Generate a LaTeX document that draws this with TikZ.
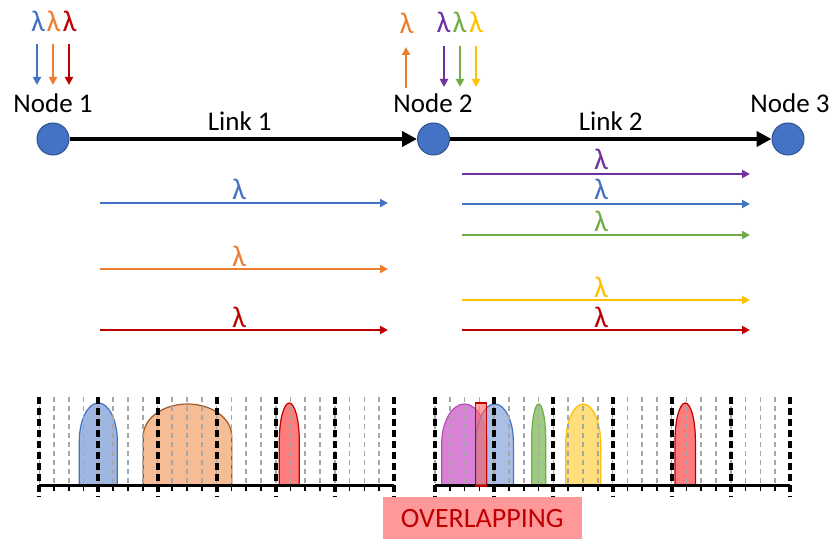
\documentclass[tikz,border=0pt]{standalone}
\usepackage{fontspec}
\setmainfont{Carlito}
\usetikzlibrary{arrows.meta}
\definecolor{cBlue}{HTML}{4472C4}
\definecolor{cOrange}{HTML}{ED7D31}
\definecolor{cRed}{HTML}{C00000}
\definecolor{cPurple}{HTML}{7030A0}
\definecolor{cGreen}{HTML}{70AD47}
\definecolor{cYellow}{HTML}{FFC000}
\definecolor{fBlue}{HTML}{8FAADC}
\definecolor{fOrange}{HTML}{F4B183}
\definecolor{dOrange}{HTML}{9C5A2A}
\definecolor{fRed}{HTML}{FF6666}
\definecolor{fPurple}{HTML}{D06BD0}
\definecolor{dPurple}{HTML}{B84DB8}
\definecolor{fGreen}{HTML}{8CC46B}
\definecolor{fYellow}{HTML}{FFD966}
\definecolor{nodeEdge}{HTML}{2F528F}
\definecolor{ovFill}{HTML}{FF9999}
\newcommand{\specbump}[5]{% center, halfwidth, top, ry, style
  \path[#5] (#1-#2,485) -- (#1-#2,#3+#4)
    arc[start angle=180,end angle=360,x radius=#2,y radius=#4] -- (#1+#2,485) -- cycle;}
\newcommand{\specgrid}[2]{% x0, major step
  \foreach \i in {0,...,23}{
    \pgfmathsetmacro{\xx}{#1+\i*#2/4}
    \draw[minorline] (\xx,397) -- (\xx,485);
    \draw[tickline] (\xx,485) -- (\xx,491);
  }
  \foreach \i in {0,...,6}{
    \pgfmathsetmacro{\xx}{#1+\i*#2}
    \draw[majorline] (\xx,397) -- (\xx,497);
  }
  \draw[axisline] (#1,485) -- ({#1+6*#2},485);
}
\begin{document}
\begin{tikzpicture}[x=1pt,y=-1pt,
  netnode/.style={circle,fill=cBlue,draw=nodeEdge,line width=1pt,minimum size=32pt,inner sep=0pt},
  lbl/.style={font=\fontsize{27}{30}\selectfont,inner sep=0pt},
  lam/.style={font=\fontsize{30}{32}\selectfont,inner sep=0pt},
  link/.style={line width=4.5pt,-{Triangle[length=15pt,width=15pt]}},
  wl/.style={line width=2pt,-{Triangle[length=8pt,width=8pt]}},
  smallarr/.style={line width=2pt,-{Triangle[length=8pt,width=8pt]}},
  minorline/.style={draw=black!35,line width=1.6pt,dash pattern=on 5pt off 4pt},
  majorline/.style={draw=black,line width=4pt,dash pattern=on 7pt off 4pt},
  tickline/.style={draw=black,line width=1.6pt},
  axisline/.style={draw=black,line width=3pt},
  bump/.style={line width=1.2pt,fill opacity=0.85}
]
\useasboundingbox (0,0) rectangle (833,540);
\fill[white] (0,0) rectangle (833,540);

% nodes
\node[netnode] (n1) at (53,139) {};
\node[netnode] (n2) at (433.5,139) {};
\node[netnode] (n3) at (788,139) {};
\node[lbl] (t1) at (53,103) {Node 1};
\node[lbl] (t2) at (433,103) {Node 2};
\node[lbl] (t3) at (790,103) {Node 3};

\draw[link] (n1) -- (n2) node[lbl,pos=0.49,above=6pt] (l1) {Link 1};
\draw[link] (n2) -- (n3) node[lbl,pos=0.5,above=6pt] (l2) {Link 2};

% add/drop wavelengths at node 1
\node[lam,text=cBlue] (a1) at (38,21) {λ};
\node[lam,text=cOrange] (a2) at (53.5,21) {λ};
\node[lam,text=cRed] (a3) at (69.5,21) {λ};
\coordinate (a1s) at (37,44); \coordinate (a1e) at (37,85);
\coordinate (a2s) at (53,44); \coordinate (a2e) at (53,85);
\coordinate (a3s) at (69,44); \coordinate (a3e) at (69,85);
\draw[smallarr,cBlue] (a1s) -- (a1e);
\draw[smallarr,cOrange] (a2s) -- (a2e);
\draw[smallarr,cRed] (a3s) -- (a3e);

% node 2
\node[lam,text=cOrange] (b0) at (406.5,23) {λ};
\node[lam,text=cPurple] (b1) at (443.5,22) {λ};
\node[lam,text=cGreen] (b2) at (459.5,22) {λ};
\node[lam,text=cYellow] (b3) at (476,22) {λ};
\coordinate (b0s) at (406,88); \coordinate (b0e) at (406,47);
\coordinate (b1s) at (444,46); \coordinate (b1e) at (444,87);
\coordinate (b2s) at (460,46); \coordinate (b2e) at (460,87);
\coordinate (b3s) at (476,46); \coordinate (b3e) at (476,87);
\draw[smallarr,cOrange] (b0s) -- (b0e);
\draw[smallarr,cPurple] (b1s) -- (b1e);
\draw[smallarr,cGreen] (b2s) -- (b2e);
\draw[smallarr,cYellow] (b3s) -- (b3e);

% lightpaths link 1
\coordinate (p1s) at (100,203); \coordinate (p1e) at (388,203);
\coordinate (p2s) at (100,269); \coordinate (p2e) at (388,269);
\coordinate (p3s) at (100,330); \coordinate (p3e) at (388,330);
\draw[wl,cBlue] (p1s) -- (p1e);
\draw[wl,cOrange] (p2s) -- (p2e);
\draw[wl,cRed] (p3s) -- (p3e);
\node[lam,text=cBlue] (q1) at (239,189) {λ};
\node[lam,text=cOrange] (q2) at (239,256) {λ};
\node[lam,text=cRed] (q3) at (239,317) {λ};

% lightpaths link 2
\coordinate (r1s) at (462,174); \coordinate (r1e) at (750,174);
\coordinate (r2s) at (462,204); \coordinate (r2e) at (750,204);
\coordinate (r3s) at (462,235); \coordinate (r3e) at (750,235);
\coordinate (r4s) at (462,300); \coordinate (r4e) at (750,300);
\coordinate (r5s) at (462,330); \coordinate (r5e) at (750,330);
\draw[wl,cPurple] (r1s) -- (r1e);
\draw[wl,cBlue] (r2s) -- (r2e);
\draw[wl,cGreen] (r3s) -- (r3e);
\draw[wl,cYellow] (r4s) -- (r4e);
\draw[wl,cRed] (r5s) -- (r5e);
\node[lam,text=cPurple] (s1) at (601,159) {λ};
\node[lam,text=cBlue] (s2) at (601,189) {λ};
\node[lam,text=cGreen] (s3) at (601,221) {λ};
\node[lam,text=cYellow] (s4) at (601,287) {λ};
\node[lam,text=cRed] (s5) at (601,317) {λ};

% spectra left
\specbump{98.3}{19}{403}{38}{bump,fill=fBlue,draw=cBlue}
\specbump{187.5}{44.2}{404}{32}{bump,fill=fOrange,draw=dOrange}
\specbump{289.3}{10}{403}{38}{bump,fill=fRed,draw=cRed}
\specgrid{39.3}{59.1}

% spectra right
\specbump{464.5}{22.8}{404}{40}{bump,fill=fPurple,draw=dPurple}
\specbump{494.7}{18.7}{404}{38}{bump,fill=fBlue,draw=cBlue,fill opacity=0.75}
\specbump{538.7}{7}{404}{36}{bump,fill=fGreen,draw=cGreen}
\specbump{583.2}{17.5}{404}{40}{bump,fill=fYellow,draw=cYellow}
\specbump{685.2}{10.2}{403}{38}{bump,fill=fRed,draw=cRed}
\specgrid{435}{59.17}
\node[draw=cRed,fill=fRed,fill opacity=0.6,draw opacity=1,line width=1.2pt,minimum width=11pt,minimum height=83pt,inner sep=0pt] (ov) at (480.7,444.5) {};

% overlapping label
\node[fill=ovFill,text=cRed,font=\fontsize{28}{30}\selectfont,minimum width=199pt,minimum height=42pt,inner sep=0pt] (ovl) at (482.3,518.3) {OVERLAPPING};
\end{tikzpicture}
\end{document}
